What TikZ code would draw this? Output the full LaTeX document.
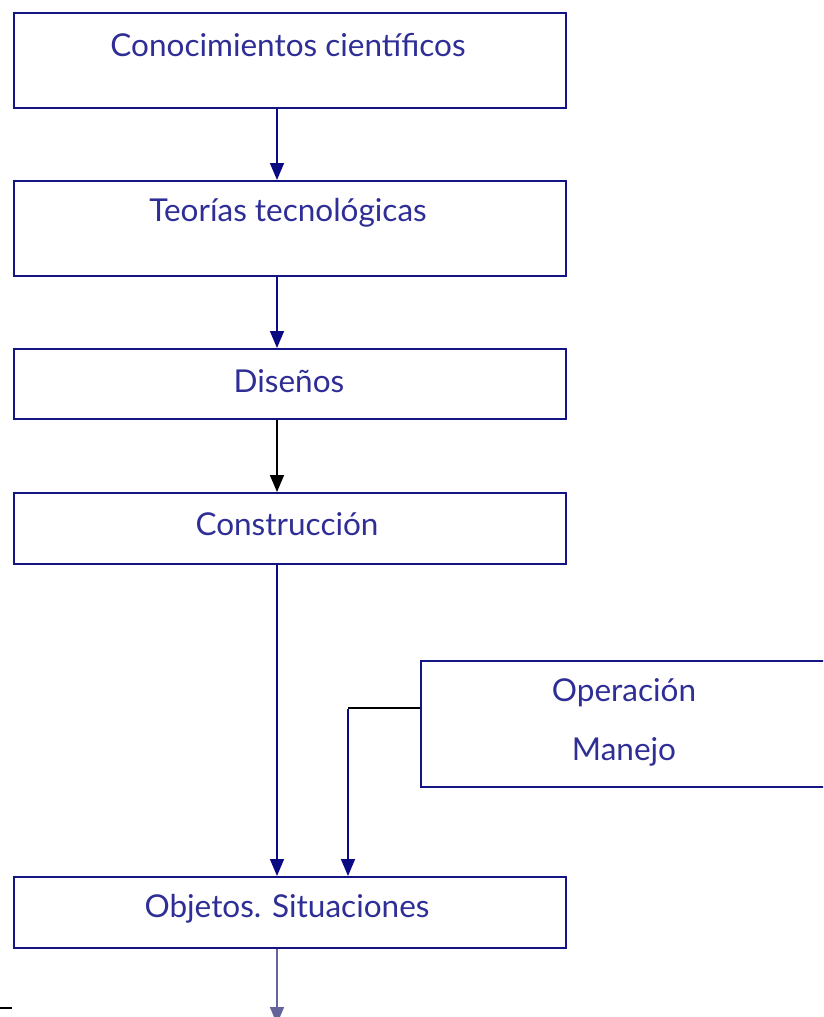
\documentclass[tikz,border=0pt]{standalone}
\usepackage{fontspec}
\setmainfont{Lato}
\usetikzlibrary{arrows.meta}
\definecolor{boxblue}{RGB}{20,20,130}
\definecolor{txtblue}{RGB}{46,46,150}
\definecolor{arrblue}{RGB}{10,10,130}
\definecolor{greyblue}{RGB}{100,100,155}
\tikzset{
  box/.style={draw=boxblue, line width=2pt, inner sep=0pt, anchor=north west},
  lbl/.style={text=txtblue, font=\fontsize{31.5}{36}\selectfont, inner sep=0pt},
  conn/.style={draw=arrblue, line width=1.6pt, -{Triangle[width=14pt,length=17pt]}},
}
\begin{document}
\begin{tikzpicture}[x=1pt,y=-1pt]
\useasboundingbox (0,0) rectangle (823,1017);
\clip (0,0) rectangle (823,1017);
\node[box, minimum width=552pt, minimum height=95pt] (b1) at (13,12) {};
\node[box, minimum width=552pt, minimum height=95pt] (b2) at (13,180) {};
\node[box, minimum width=552pt, minimum height=70pt] (b3) at (13,348) {};
\node[box, minimum width=552pt, minimum height=71pt] (b4) at (13,492) {};
\node[box, minimum width=420pt, minimum height=126pt] (b5) at (420,660) {};
\node[box, minimum width=552pt, minimum height=71pt] (b6) at (13,876) {};
\node[lbl] (t1) at (288,45) {Conocimientos científicos};
\node[lbl] (t2) at (288,213) {Teorías tecnológicas};
\node[lbl] (t3) at (289,381) {Diseños};
\node[lbl] (t4) at (287,524) {Construcción};
\node[lbl] (t5a) at (624,693) {Operación};
\node[lbl] (t5b) at (624,752) {Manejo};
\node[lbl] (t6) at (287,909) {Objetos. Situaciones};
\draw[conn] (b1.south -| 277,0) -- (b2.north -| 277,0);
\draw[conn] (b2.south -| 277,0) -- (b3.north -| 277,0);
\draw[conn, draw=black] (b3.south -| 277,0) -- (b4.north -| 277,0);
\draw[conn] (b4.south -| 277,0) -- (b6.north -| 277,0);
\coordinate (k) at (348,708);
\draw[black, line width=1.6pt] (b5.west |- k) -- (k);
\draw[conn] ([yshift=-0.8pt]k) -- (b6.north -| k);
\coordinate (e) at (277,1024);
\draw[conn, draw=greyblue] (b6.south -| e) -- (e);
\coordinate (m1) at (0,1008);
\coordinate (m2) at (12,1008);
\draw[black, line width=2pt] (m1) -- (m2);
\end{tikzpicture}
\end{document}
